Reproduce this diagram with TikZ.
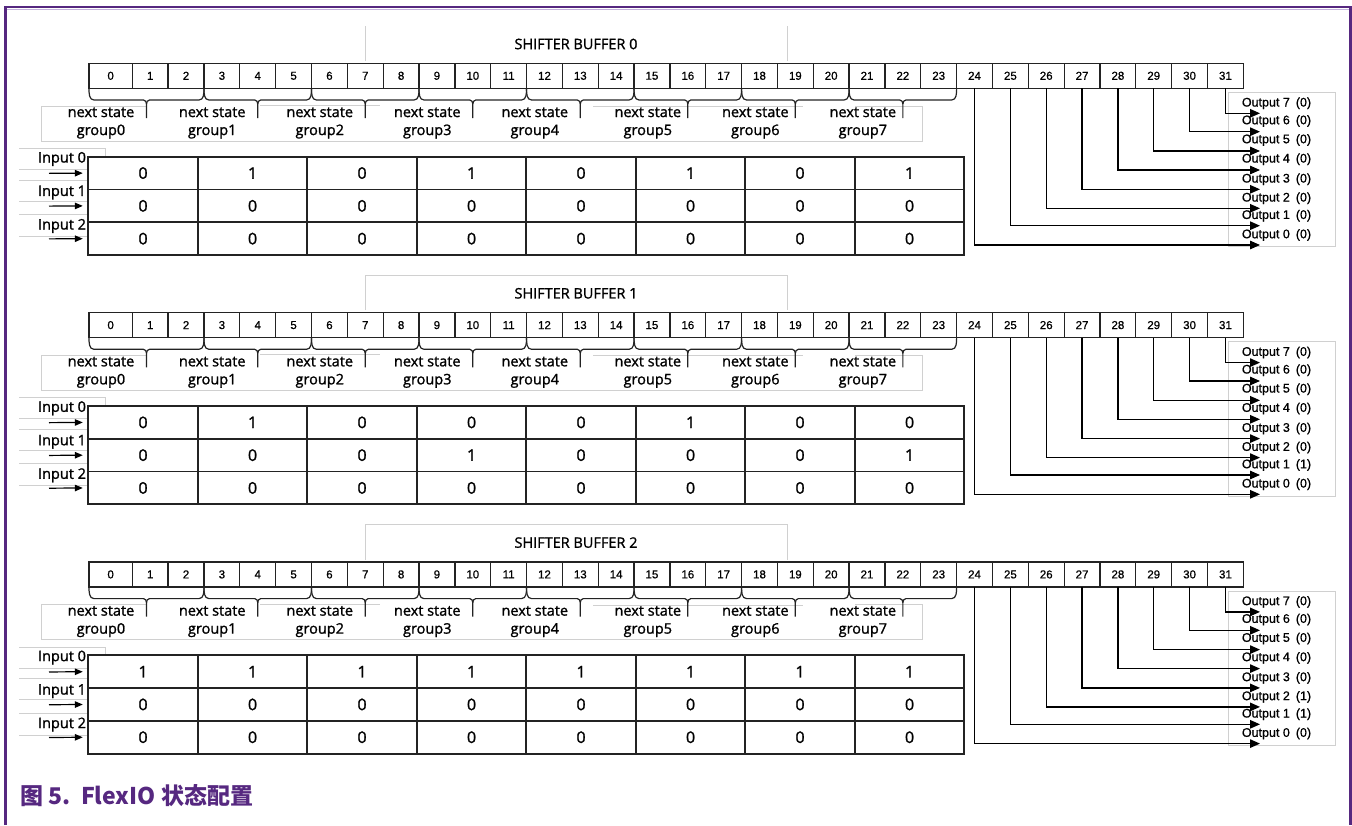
\documentclass[tikz,border=0pt]{standalone}
\usepackage{fontspec}
\setmainfont{Liberation Sans}
\newfontfamily\osans[FakeBold=1.3]{Open Sans}
\newfontfamily\arialb[FakeBold=0.8]{Liberation Sans}
\newfontfamily\cjkfont{Noto Sans CJK SC}
\usetikzlibrary{arrows.meta}
\definecolor{nxppurple}{RGB}{86,40,128}
\definecolor{lavender}{RGB}{196,178,220}
\definecolor{faint}{RGB}{208,208,208}
\definecolor{cellline}{RGB}{35,35,35}
\tikzset{
  bitcell/.style={draw=cellline, line width=1.3pt, minimum height=25pt, inner sep=0pt, outer sep=0pt,
    anchor=north west, font=\arialb\fontsize{11.5}{12}\selectfont},
  tabcell/.style={draw=cellline, line width=1.8pt, minimum width=109.5pt, minimum height=32.77pt,
    inner sep=0pt, outer sep=0pt, anchor=north west, font=\osans\fontsize{16}{18}\selectfont},
  titletext/.style={font=\osans\fontsize{14.5}{16}\selectfont, inner sep=0pt},
  nslabel/.style={font=\osans\fontsize{14.5}{18}\selectfont, align=center, inner sep=0pt},
  inlabel/.style={font=\osans\fontsize{14.5}{16}\selectfont, inner sep=0pt},
  outlabel/.style={font=\arialb\fontsize{12.5}{14}\selectfont, inner sep=0pt, anchor=west},
  faintline/.style={draw=faint, line width=0.8pt},
  bracestyle/.style={draw=cellline, line width=1.2pt},
  inarrow/.style={draw=black, line width=1.2pt, -{Triangle[length=8pt,width=6.5pt]}},
  outarrow/.style={draw=black, line width=1.3pt, -{Triangle[length=10pt,width=8.5pt]}},
}
\def\tabvals{{0,1,0,1,0,1,0,1, 0,0,0,0,0,0,0,0, 0,0,0,0,0,0,0,0,
              0,1,0,0,0,1,0,0, 0,0,0,1,0,0,0,1, 0,0,0,0,0,0,0,0,
              1,1,1,1,1,1,1,1, 0,0,0,0,0,0,0,0, 0,0,0,0,0,0,0,0}}
\def\outvals{{0,0,0,0,0,0,0,0, 0,1,0,0,0,0,0,0, 0,1,1,0,0,0,0,0}}
\def\outys{{245,225.7,208.3,189.3,170,151,131.7,113.3}}
\def\labys{{235,215.7,198.3,179.3,159.3,140,121,103.3}}
\begin{document}
\begin{tikzpicture}[x=1pt,y=-1pt]
\useasboundingbox (0,0) rectangle (1352,825);
% frame
\draw[lavender, line width=1.4pt] (6.5,9.2) -- (1349,9.2);
\draw[nxppurple, line width=2.6pt] (5.3,825) -- (5.3,7) -- (1350.3,7) -- (1350.3,825);

\foreach \p in {0,1,2}{
  \pgfmathsetmacro\dy{249.3*\p}
  % faint text boxes
  \ifnum\p>0
    \draw[faintline] (365,{\dy+61}) -- (365,{\dy+26}) -- (787,{\dy+26}) -- (787,{\dy+61});
  \else
    \draw[faintline] (365,{\dy+61}) -- (365,{\dy+26});
    \draw[faintline] (787,{\dy+61}) -- (787,{\dy+26});
  \fi
  \draw[faintline] (147,{\dy+106}) -- (41,{\dy+106}) -- (41,{\dy+141}) -- (922.7,{\dy+141}) -- (922.7,{\dy+106}) -- (855,{\dy+106});
  \draw[faintline] (260,{\dy+105.5}) -- (380,{\dy+105.5});
  \draw[faintline] (593,{\dy+106.5}) -- (803,{\dy+106.5});
  \draw[faintline] (19,{\dy+148.3}) -- (105,{\dy+148.3}) -- (105,{\dy+157});
  \foreach \yy in {169.3,180,201,214.5,236.5}{
    \draw[faintline] (19,{\dy+\yy}) -- (88,{\dy+\yy});
  }
  \draw[faintline] (1228,{\dy+92.3}) rectangle (1335.7,{\dy+246.7});
  % title
  \node[titletext] (t\p) at (576,{\dy+44}) {SHIFTER BUFFER \p};
  % bit row
  \node[bitcell, minimum width=43.3pt] (b\p-0) at (89,{\dy+63.3}) {0};
  \foreach \i in {1,...,31}{
    \pgfmathsetmacro\xx{132.3+35.84*(\i-1)}
    \node[bitcell, minimum width=35.84pt] (b\p-\i) at (\xx,{\dy+63.3}) {\i};
  }
  % braces and labels
  \foreach \g in {0,...,7}{
    \pgfmathsetmacro\braceL{\g==0 ? 89 : 132.3+35.84*(3*\g-1)}
    \pgfmathsetmacro\braceR{132.3+35.84*(3*\g+2)}
    \pgfmathsetmacro\braceC{(\braceL+\braceR)/2}
    \pgfmathsetmacro\labx{\braceC + (\g<5 ? -45.5 : -40)}
    \draw[bracestyle] (\braceL,{\dy+88.3}) to[out=-90,in=180] (\braceL+5,{\dy+100})
       -- (\braceC-3,{\dy+100}) to[out=0,in=90] (\braceC,{\dy+104}) -- (\braceC,{\dy+118});
    \draw[bracestyle] (\braceC,{\dy+104}) to[out=90,in=180] (\braceC+3,{\dy+100})
       -- (\braceR-5,{\dy+100}) to[out=0,in=-90] (\braceR,{\dy+88.3});
    \node[nslabel] (ns\p-\g) at (\labx,{\dy+123}) {next state\\group\g};
  }
  % table
  \foreach \row in {0,1,2}{
    \foreach \col in {0,...,7}{
      \pgfmathtruncatemacro\v{\tabvals[\p*24+\row*8+\col]}
      \pgfmathsetmacro\tx{88.3+109.5*\col}
      \pgfmathsetmacro\ty{\dy+156.7+32.77*\row}
      \node[tabcell] (c\p-\row-\col) at (\tx,\ty) {\v};
    }
    \node[inlabel] (in\p-\row) at (62,{\dy+159+33.5*\row}) {Input \row};
    \coordinate (ia\p-\row) at (49,{\dy+173.35+32.77*\row});
    \draw[inarrow, shorten >=5.5pt] (ia\p-\row) -- (c\p-\row-0.west);
  }
  % outputs
  \foreach \j in {0,...,7}{
    \pgfmathtruncatemacro\bb{24+\j}
    \pgfmathsetmacro\oy{\dy+\outys[\j]}
    \pgfmathsetmacro\ly{\dy+\labys[\j]}
    \pgfmathtruncatemacro\ov{\outvals[\p*8+\j]}
    \coordinate (oe\p-\j) at (1260,\oy);
    \draw[outarrow] (b\p-\bb.south) |- (oe\p-\j);
    \node[outlabel] (ol\p-\j) at (1241.7,\ly) {Output \j\hspace{6pt}(\ov)};
  }
}
% caption
\node[anchor=base west, text=nxppurple, inner sep=0pt,
      font=\cjkfont\bfseries\fontsize{23}{26}\selectfont] (cap) at (20,804.3) {图 5.\ \ FlexIO 状态配置};
\end{tikzpicture}
\end{document}
